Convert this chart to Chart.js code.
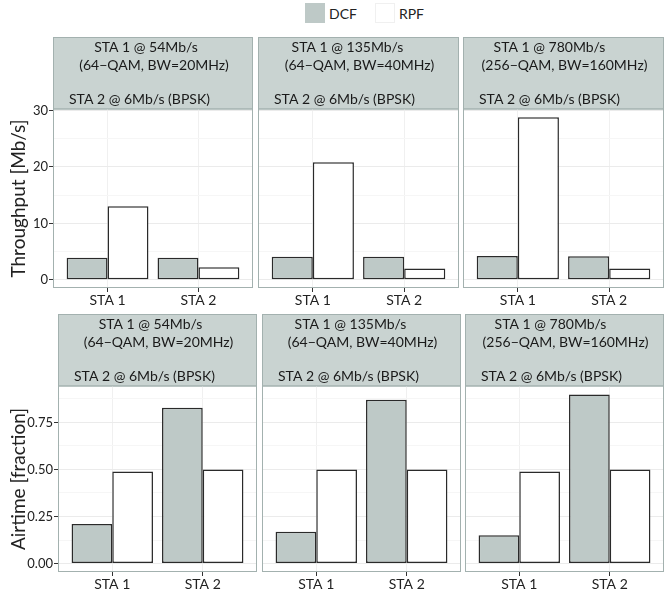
<!DOCTYPE html>
<html>
<head>
<meta charset="utf-8">
<script src="https://cdn.jsdelivr.net/npm/chart.js@4.4.0/dist/chart.umd.min.js"></script>
<style>
    body { margin: 0; background: #fff; width: 665px; height: 594px; position: relative; overflow: hidden; font-family: Lato, sans-serif; }
    .panel { position: absolute; }
    .legend { position: absolute; top: 3px; left: 305px; display: flex; align-items: center; font-size: 14px; color: #222; height: 20px; }
    .sw { width: 20px; height: 20px; display: inline-block; box-sizing: border-box; }
</style>
</head>
<body>
<div class="legend">
    <span class="sw" style="background:#BEC9C7"></span><span style="margin:0 18px 0 4px">DCF</span>
    <span class="sw" style="background:#fff;border:1px solid #F0F0F0"></span><span style="margin-left:4px">RPF</span>
</div>
<script>
const stations = ['STA 1', 'STA 2'];
const schemes = ['DCF', 'RPF'];
const rateLine = ['STA 1 @ 54Mb/s', 'STA 1 @ 135Mb/s', 'STA 1 @ 780Mb/s'];
const modLine = ['(64−QAM, BW=20MHz)', '(64−QAM, BW=40MHz)', '(256−QAM, BW=160MHz)'];
const slowLine = 'STA 2 @ 6Mb/s (BPSK)';

const throughputDCF = [[3.93, 3.93], [4.1, 4.1], [4.23, 4.2]];
const throughputRPF = [[13.05, 2.24], [20.8, 2.0], [28.8, 2.0]];
const airtimeDCF = [[0.21, 0.827], [0.169, 0.87], [0.15, 0.898]];
const airtimeRPF = [[0.489, 0.5], [0.5, 0.5], [0.489, 0.5]];

const throughputTicks = [0, 10, 20, 30];
const airtimeTicks = [0, 0.25, 0.5, 0.75];

const FILL = '#BEC9C7';
const STRIP = '#C9D3D1';
const FRAME = '#A3B1AF';
const FONT = 'Lato, sans-serif';

// layout of the two rows (each one was its own ggplot)
const rows = [
    { top: 37, plotBottom: 288, cols: [[53, 253], [258, 459], [463, 664]],
      title: 'Throughput [Mb/s]', dcf: throughputDCF, rpf: throughputRPF, ticks: throughputTicks,
      fmt: v => String(v) },
    { top: 314, plotBottom: 572, cols: [[58, 257], [262, 461], [465, 664]],
      title: 'Airtime [fraction]', dcf: airtimeDCF, rpf: airtimeRPF, ticks: airtimeTicks,
      fmt: v => v.toFixed(2) }
];
const STRIP_H = 72;
const XAXIS_H = 24;
const line1Shift = [-7, -11, -14];

const stripPlugin = {
    id: 'strip',
    beforeDraw(chart, args, opts) {
        const { ctx, chartArea: a } = chart;
        ctx.save();
        ctx.fillStyle = '#fff';
        ctx.fillRect(a.left, a.top, a.right - a.left, a.bottom - a.top);
        ctx.fillStyle = STRIP;
        ctx.fillRect(a.left, 0, a.right - a.left, STRIP_H);
        ctx.strokeStyle = FRAME;
        ctx.lineWidth = 1;
        ctx.strokeRect(a.left + 0.5, 0.5, a.right - a.left - 1, STRIP_H - 0.5);
        const cx = (a.left + a.right) / 2;
        ctx.fillStyle = '#1a1a1a';
        ctx.font = '14px ' + FONT;
        ctx.textBaseline = 'middle';
        ctx.textAlign = 'center';
        ctx.fillText(rateLine[opts.col], cx + line1Shift[opts.col], 10.5);
        ctx.fillText(modLine[opts.col], cx + 1, 28);
        ctx.textAlign = 'left';
        ctx.fillText(slowLine, a.left + 16, 62);
        ctx.restore();
    },
    afterDraw(chart) {
        const { ctx, chartArea: a } = chart;
        ctx.save();
        ctx.strokeStyle = FRAME;
        ctx.lineWidth = 1;
        ctx.strokeRect(a.left + 0.5, a.top, a.right - a.left - 1, a.bottom - a.top - 0.5);
        ctx.restore();
    }
};

rows.forEach(row => {
    const all = row.dcf.flat().concat(row.rpf.flat());
    const hi = Math.max(...all);
    const yMin = -0.05 * hi, yMax = 1.05 * hi;
    const half = (row.ticks[1] - row.ticks[0]) / 2;
    const isMajor = v => row.ticks.some(t => Math.abs(t - v) < 1e-9);

    row.cols.forEach(([pl, pr], col) => {
        const left = col === 0 ? 0 : pl;
        const width = pr - left + 1;
        const height = row.plotBottom - row.top + XAXIS_H;
        const div = document.createElement('div');
        div.className = 'panel';
        div.style.left = left + 'px';
        div.style.top = row.top + 'px';
        const canvas = document.createElement('canvas');
        canvas.width = width;
        canvas.height = height;
        canvas.style.width = width + 'px';
        canvas.style.height = height + 'px';
        div.appendChild(canvas);
        document.body.appendChild(div);

        const series = [row.dcf[col], row.rpf[col]];
        new Chart(canvas, {
            type: 'bar',
            data: {
                datasets: schemes.map((name, k) => ({
                    label: name,
                    data: stations.map((s, i) => ({ x: i + 1, y: series[k][i] })),
                    backgroundColor: k === 0 ? FILL : '#ffffff',
                    borderColor: '#2a2a2a',
                    borderWidth: 1.5,
                    borderSkipped: false,
                    categoryPercentage: 0.9,
                    barPercentage: 1.0
                }))
            },
            plugins: [stripPlugin],
            options: {
                responsive: false,
                animation: false,
                layout: { padding: { top: STRIP_H, right: 1, left: 0, bottom: 0 } },
                plugins: {
                    legend: { display: false },
                    tooltip: { enabled: false },
                    strip: { col: col }
                },
                scales: {
                    x: {
                        type: 'linear',
                        offset: false,
                        min: 0.4,
                        max: 2.6,
                        afterBuildTicks: s => { s.ticks = stations.map((_, i) => ({ value: i + 1 })); },
                        afterFit: s => { s.height = XAXIS_H; },
                        ticks: {
                            autoSkip: false,
                            maxRotation: 0,
                            padding: 0,
                            color: '#222',
                            font: { family: FONT, size: 14 },
                            callback: v => stations[v - 1]
                        },
                        grid: { offset: false, color: '#F0F0F0', tickColor: '#333', tickLength: 4 },
                        border: { display: false }
                    },
                    y: {
                        min: yMin,
                        max: yMax,
                        afterBuildTicks: s => {
                            const t = [];
                            row.ticks.forEach(v => {
                                t.push({ value: v });
                                if (v + half <= yMax) t.push({ value: v + half });
                            });
                            s.ticks = t;
                        },
                        afterFit: s => { s.width = col === 0 ? pl : 0; },
                        ticks: {
                            display: col === 0,
                            autoSkip: false,
                            padding: 1,
                            color: '#222',
                            font: { family: FONT, size: 13 },
                            callback: v => isMajor(v) ? row.fmt(v) : ''
                        },
                        grid: {
                            drawTicks: col === 0,
                            tickLength: 4,
                            color: c => isMajor(c.tick.value) ? '#EBEBEB' : '#F6F6F6',
                            tickColor: c => isMajor(c.tick.value) ? '#333' : 'rgba(0,0,0,0)'
                        },
                        border: { display: false },
                        title: {
                            display: col === 0,
                            text: row.title,
                            color: '#222',
                            font: { family: FONT, size: 19 },
                            padding: { top: 7, bottom: 0 }
                        }
                    }
                }
            }
        });
    });
});
</script>
</body>
</html>
